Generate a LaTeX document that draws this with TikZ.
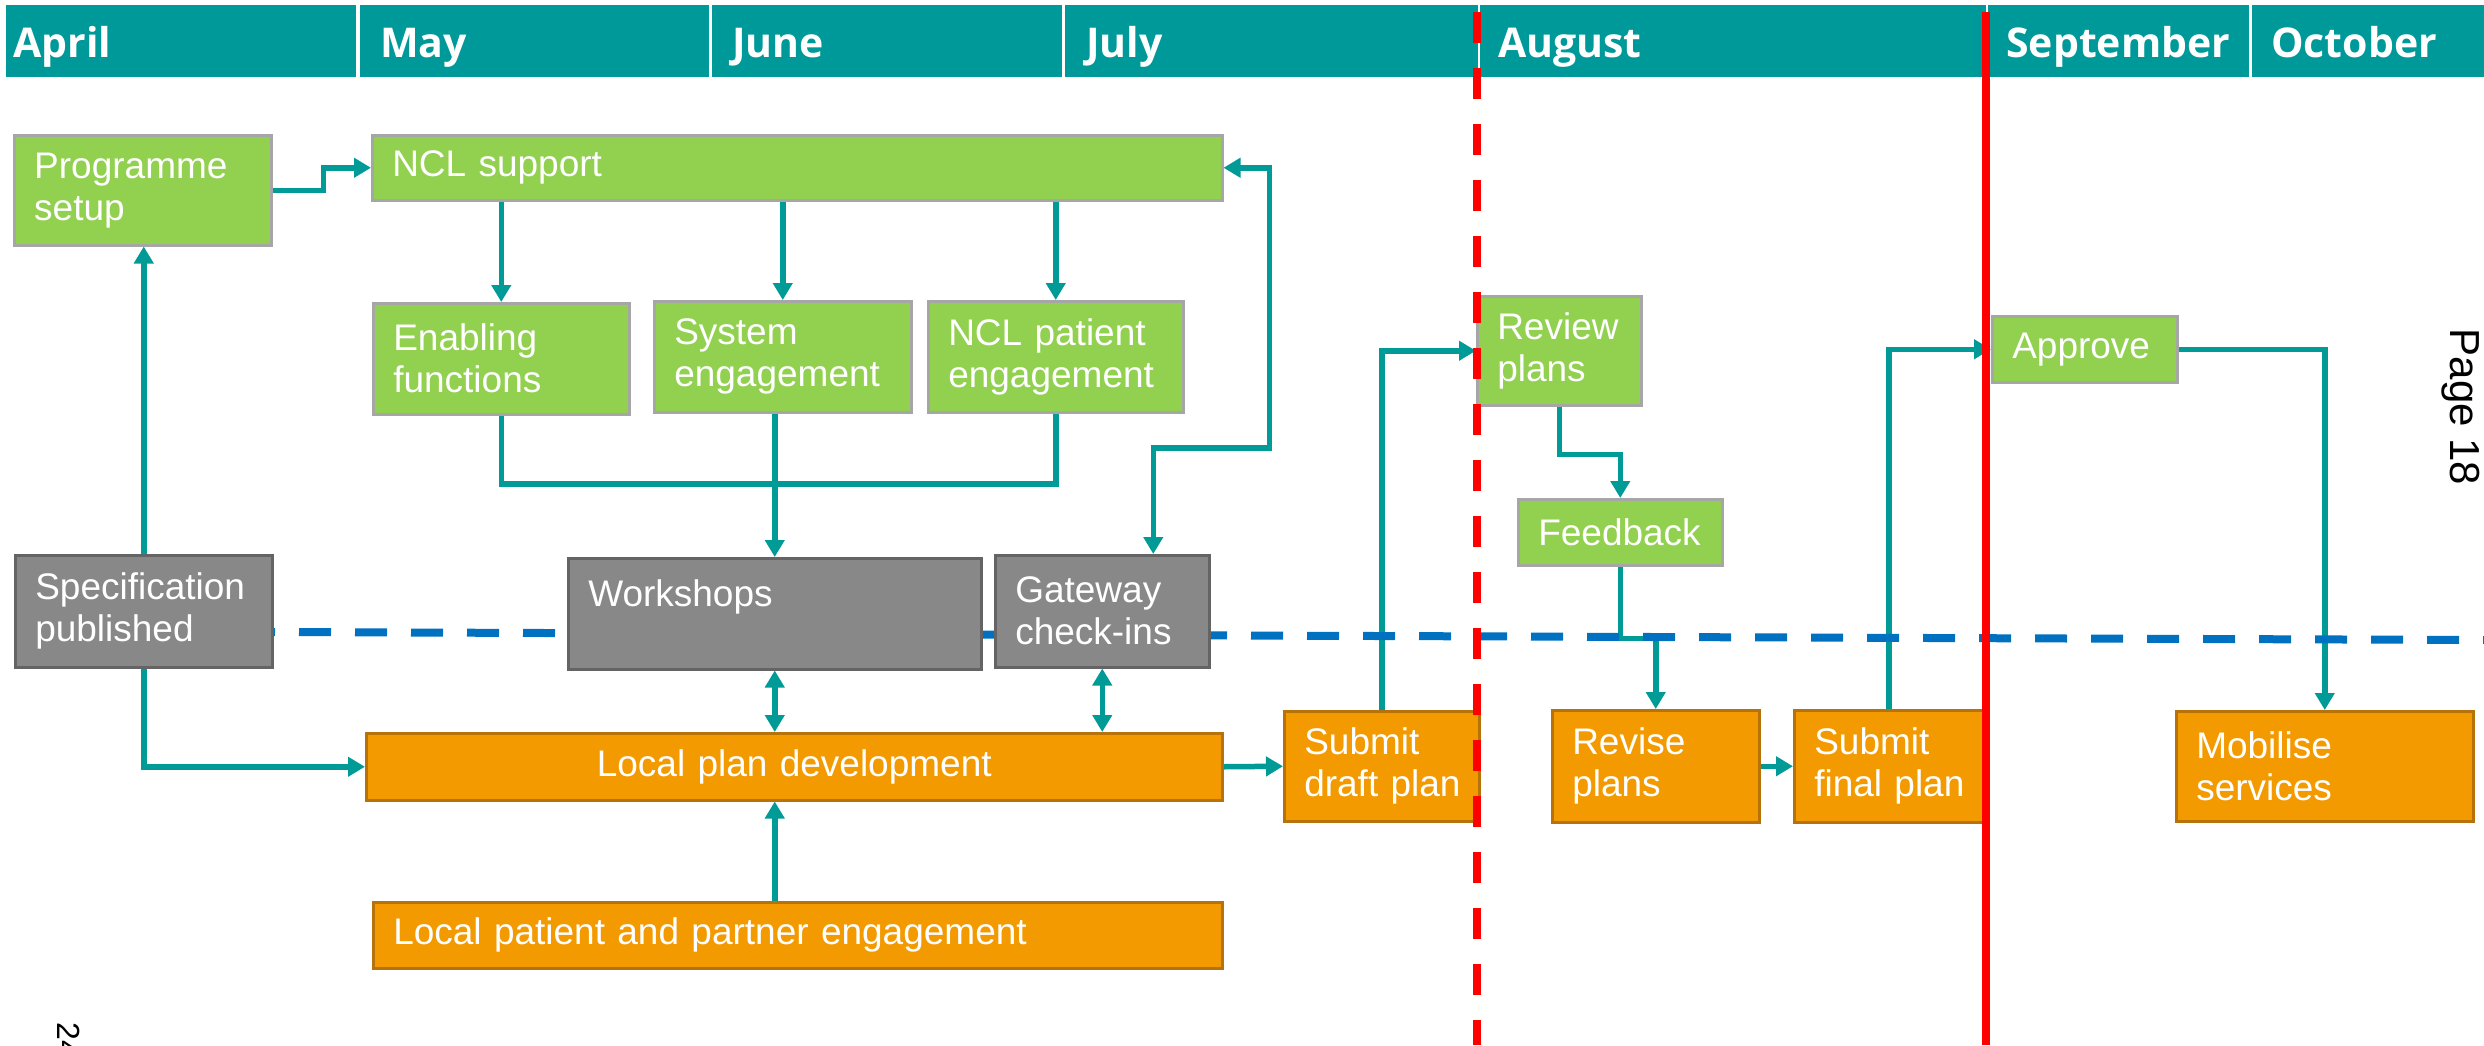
\documentclass[tikz,border=0pt]{standalone}
\usepackage{fontspec}
\setmainfont{Liberation Sans}
\newfontfamily\monthfont{Open Sans}
\usetikzlibrary{arrows.meta, calc}

\definecolor{hdrteal}{RGB}{0,153,153}
\definecolor{linkteal}{RGB}{0,155,150}
\definecolor{taskgreenfill}{RGB}{146,208,80}
\definecolor{taskgreenline}{RGB}{166,166,166}
\definecolor{taskgreyfill}{RGB}{136,136,136}
\definecolor{taskgreyline}{RGB}{100,100,100}
\definecolor{taskorangefill}{RGB}{243,154,0}
\definecolor{taskorangeline}{RGB}{184,114,10}
\definecolor{planblue}{RGB}{0,112,192}

\pgfdeclarelayer{links}
\pgfdeclarelayer{marks}
\pgfdeclarelayer{front}
\pgfsetlayers{links,marks,main,front}

\tikzset{
  monthcell/.style 2 args={anchor=north west, fill=hdrteal, text=white,
    font=\monthfont\bfseries\fontsize{41}{48}\selectfont, align=left,
    minimum height=72, inner ysep=0, text height=34, text depth=2,
    minimum width=#1, inner xsep=#2, text width=\the\dimexpr#1pt-#2pt-#2pt\relax},
  task/.style={anchor=north west, draw, line width=2.5pt, text=white,
    font=\fontsize{37}{42}\selectfont, inner xsep=20, inner ysep=0, align=left},
  tasksize/.style 2 args={minimum width=#1, minimum height=#2,
    text width=\the\dimexpr#1pt-40pt\relax},
  taskgreen/.style={task, fill=taskgreenfill, draw=taskgreenline},
  taskgrey/.style={task, fill=taskgreyfill, draw=taskgreyline},
  taskorange/.style={task, fill=taskorangefill, draw=taskorangeline},
  link/.style={draw=linkteal, line width=5.5pt},
  flow/.style={link, -{Triangle[width=19pt,length=17pt]}},
  biflow/.style={link, {Triangle[width=19pt,length=17pt]}-{Triangle[width=19pt,length=17pt]}},
  planline/.style={draw=planblue, line width=8pt, dash pattern=on 32pt off 24pt, dash phase=28pt},
  deadline/.style={draw=red, line width=7.5pt},
}

\begin{document}
\begin{tikzpicture}[x=1pt,y=1pt,yscale=-1]
\useasboundingbox (0,0) rectangle (2484,1045);

% Month header
\node[monthcell={350}{7}] (apr) at (6,5) {April};
\node[monthcell={349}{20}] (may) at (360,5) {May};
\node[monthcell={350}{20}] (jun) at (712,5) {June};
\node[monthcell={413}{21}] (jul) at (1065,5) {July};
\node[monthcell={506}{18}] (aug) at (1480,5) {August};
\node[monthcell={261}{18}] (sep) at (1988,5) {September};
\node[monthcell={232}{19}] (oct) at (2252,5) {October};

% Green boxes
\node[taskgreen, tasksize={257}{110}] (prog) at (13,134) {Programme\\setup};
\node[taskgreen, tasksize={850}{65}] (ncl) at (371,134) {NCL support};
\node[taskgreen, tasksize={256}{111}] (enab) at (372,302) {Enabling\\functions};
\node[taskgreen, tasksize={257}{111}] (sys) at (653,300) {System\\engagement};
\node[taskgreen, tasksize={255}{111}] (nclp) at (927,300) {NCL patient\\engagement};
\node[taskgreen, tasksize={164}{109}] (rev) at (1476,295) {Review\\plans};
\node[taskgreen, tasksize={204}{66}] (fb) at (1517,498) {Feedback};
\node[taskgreen, tasksize={185}{66}] (appr) at (1991,315) {Approve};

% Grey boxes
\node[taskgrey, tasksize={257}{112}] (spec) at (14,554) {Specification\\published};
\node[taskgrey, tasksize={413}{111}] (work) at (567,557) {Workshops\\\mbox{}};
\node[taskgrey, tasksize={214}{112}] (gate) at (994,554) {Gateway\\check-ins};

% Orange boxes
\node[taskorange, tasksize={856}{67}, align=center] (lpd) at (365,732) {Local plan development};
\node[taskorange, tasksize={849}{66}] (lppe) at (372,901) {Local patient and partner engagement};
\node[taskorange, tasksize={195}{110}] (sdp) at (1283,710) {Submit\\draft~plan};
\node[taskorange, tasksize={207}{112}] (rvp) at (1551,709) {Revise\\plans};
\node[taskorange, tasksize={189}{112}] (sfp) at (1793,709) {Submit\\final~plan};
\node[taskorange, tasksize={297}{110}] (mob) at (2175,710) {Mobilise\\services};

% Connectors
\begin{pgfonlayer}{links}
\draw[flow] (prog.east) -- ++(51,0) |- (ncl.west);
\draw[flow] (enab |- ncl.south) -- (enab.north);
\draw[flow] (sys |- ncl.south) -- (sys.north);
\draw[flow] (nclp |- ncl.south) -- (nclp.north);
\draw[link] (enab.south) |- (nclp.south |- 0,484) -- (nclp.south);
\draw[flow] (sys.south -| work.north) -- (work.north);
\draw[flow] (spec.north) -- (spec.north |- prog.south);
\draw[flow] (spec.south) |- (lpd.west);
\draw[biflow] (work.south) -- (work.south |- lpd.north);
\draw[biflow] (gate.south) -- (gate.south |- lpd.north);
\draw[biflow] (ncl.east) -- ++(46,0) |- ($(gate.north)+(51,-106)$) -- ($(gate.north)+(51,0)$);
\draw[flow] (work.south |- lppe.north) -- (work.south |- lpd.south);
\draw[flow] (lpd.east) -- (sdp.west);
\draw[flow] (sdp.north) |- (rev.west);
\draw[flow] (rev.south) -- ++(0,48) -| (fb.north);
\draw[flow] (fb.south) -- ++(0,72) -| (rvp.north);
\draw[flow] (rvp.east) -- (sfp.west);
\draw[flow] (sfp.north) |- (appr.west);
\draw[flow] (appr.east) -| (mob.north);
\end{pgfonlayer}

% Plan line
\begin{pgfonlayer}{marks}
\draw[planline] (271,632) -- (2484,640);
\end{pgfonlayer}

% Deadlines
\begin{pgfonlayer}{front}
\draw[deadline, dash pattern=on 31pt off 25pt] (1477,12) -- (1477,1045);
\draw[deadline] (1986,12) -- (1986,1045);
\end{pgfonlayer}

% Page numbers
\node[rotate=-90, font=\fontsize{42}{48}\selectfont] (pagenum) at (2461,407) {Page 18};
\node[rotate=-90, anchor=base west, inner sep=0, font=\fontsize{32}{38}\selectfont] (sheetnum) at (57,1022) {24};

\end{tikzpicture}
\end{document}
